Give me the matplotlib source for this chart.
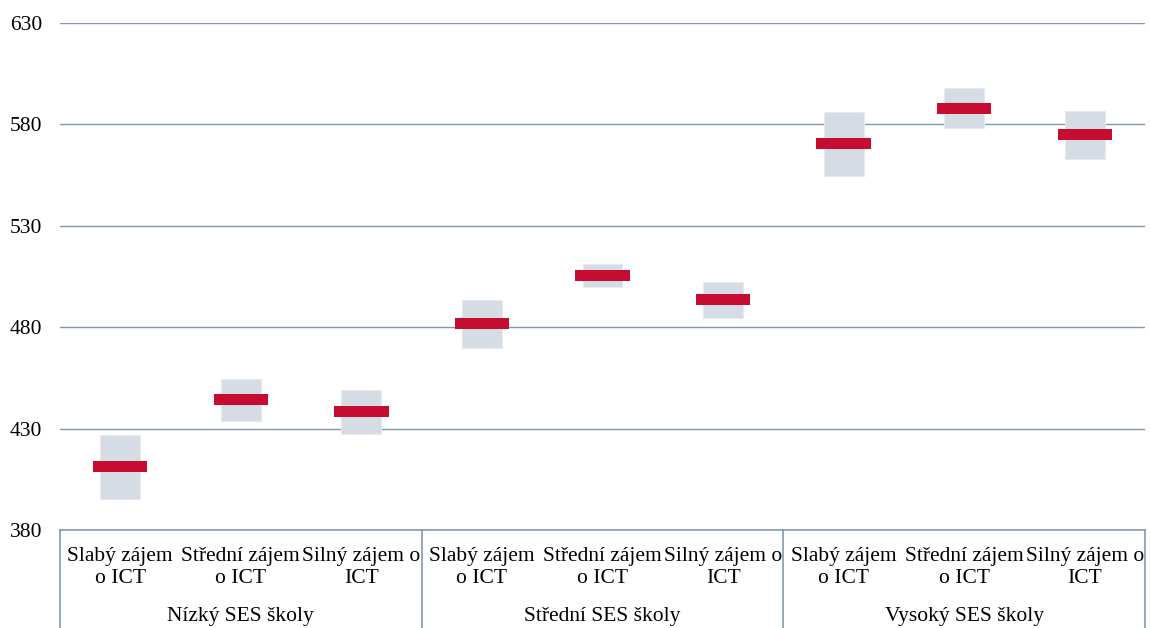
import matplotlib
matplotlib.use("Agg")
import matplotlib.pyplot as plt
from matplotlib.lines import Line2D

groups = ["Nízký SES školy", "Střední SES školy", "Vysoký SES školy"]
subcats = ["Slabý zájem\no ICT", "Střední zájem\no ICT", "Silný zájem o\nICT"]
means = [411.2, 444.3, 438.3, 481.7, 505.4, 493.5, 570.5, 587.9, 575.1]
lows = [395.5, 433.6, 427.3, 469.7, 499.7, 484.5, 554.8, 578.3, 563.0]
highs = [426.6, 454.6, 449.2, 493.3, 511.0, 502.2, 585.9, 597.8, 586.4]
yticks = [380, 430, 480, 530, 580, 630]

plt.rcParams['font.family'] = ['Liberation Serif', 'DejaVu Serif']

W, H = 1150, 628
fig = plt.figure(figsize=(W / 100, H / 100), dpi=100)
L, R, T, B = 60, 1145, 23, 530
ax = fig.add_axes([L / W, 1 - B / H, (R - L) / W, (B - T) / H])

grid_c = '#8497B0'
fs = 15.5
n = len(means)
xs = list(range(n))
ax.bar(xs, [h - l for h, l in zip(highs, lows)], bottom=lows, width=0.33,
       color='#D6DCE4', edgecolor='#E6E9EE', linewidth=0.8, zorder=2)
mh = 5.3
ax.bar(xs, [mh] * n, bottom=[m - mh / 2 for m in means], width=0.45,
       color='#C60C30', linewidth=0, zorder=3)

ax.set_xlim(-0.5, n - 0.5)
ax.set_ylim(380, 630)
ax.set_yticks(yticks)
ax.set_yticklabels([str(v) for v in yticks], fontsize=fs)
ax.tick_params(axis='y', length=0, pad=13)
ax.set_xticks([])
ax.yaxis.grid(True, color=grid_c, linewidth=1.0, zorder=1)
ax.set_axisbelow(True)
for s in ['top', 'right', 'left']:
    ax.spines[s].set_visible(False)
ax.spines['bottom'].set_color(grid_c)
ax.spines['bottom'].set_linewidth(1.2)

axh = B - T
def ay(py):
    return (B - py) / axh

trans = ax.get_xaxis_transform()
for i in range(n):
    ax.text(xs[i], ay(567.5), subcats[i % 3], transform=trans, ha='center', va='center',
            fontsize=fs, linespacing=1.25, clip_on=False)
for g, name in enumerate(groups):
    ax.text(g * 3 + 1, ay(617), name, transform=trans, ha='center', va='center',
            fontsize=fs, clip_on=False)
for k in range(4):
    xv = k * 3 - 0.5
    ax.add_line(Line2D([xv, xv], [0, ay(H)], transform=trans, color=grid_c,
                       linewidth=1.2, clip_on=False))

fig.savefig("out.png", dpi=100)
